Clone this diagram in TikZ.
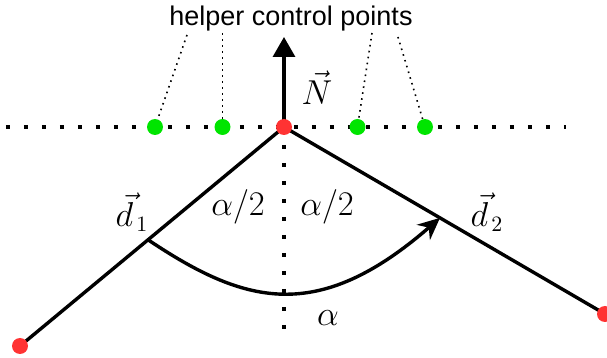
\documentclass[tikz,border=0pt]{standalone}
\usepackage{fontspec}
\newfontfamily\helperfont{Liberation Sans}
\usetikzlibrary{arrows.meta, calc}

\begin{document}
\begin{tikzpicture}[x=0.5pt, y=-0.5pt, >=Stealth,
  pt/.style={circle, fill=#1, inner sep=0pt, minimum size=8pt},
  thickdots/.style={line width=2.2pt, dash pattern=on 2.2pt off 6.8pt},
  thindots/.style={line width=0.8pt, dash pattern=on 0.8pt off 2.2pt},
  mlabel/.style={font=\fontsize{16}{18}\selectfont}]
  \useasboundingbox (0,0) rectangle (607,358);
  % reflection setup
  \coordinate (c) at (284,127);
  \coordinate (l) at (20,346);
  \coordinate (r) at (605,314);
  \coordinate (n) at (284,37);
  \coordinate (hl) at (6,127);
  \coordinate (hr) at (566,127);
  \coordinate (vb) at (284,332);
  \coordinate (a1) at ($(c)!0.515!(l)$);
  \coordinate (a2) at ($(c)!0.486!(r)$);
  \draw[thickdots] (hl) -- (hr);
  \draw[thickdots] (c) -- (vb);
  \draw[line width=1.7pt] (l) -- (c) -- (r);
  \draw[line width=1.7pt, -{Triangle[length=10pt, width=11pt]}] (c) -- (n);
  \draw[line width=1.7pt, -{Stealth[length=11pt, width=10pt]}] (a1) .. controls (244,304) and (317,325) .. (a2);
  % points
  \node[pt=red!80!white] (cdot) at (c) {};
  \node[pt=red!80!white] (ldot) at (l) {};
  \node[pt=red!80!white] (rdot) at (r) {};
  \node[pt=green!90!black] (g1) at (155,127) {};
  \node[pt=green!90!black] (g2) at (222.5,127) {};
  \node[pt=green!90!black] (g3) at (357.5,127) {};
  \node[pt=green!90!black] (g4) at (425,127) {};
  % labels
  \node[font=\helperfont\fontsize{13.5}{15}\selectfont] (helper) at (291,19) {helper control points};
  \coordinate (p1) at (187,35);
  \coordinate (p2) at (222.5,33);
  \coordinate (p3) at (372,33);
  \coordinate (p4) at (398,37);
  \foreach \i in {1,...,4}
    \draw[thindots] (p\i) -- (g\i);
  \node[mlabel] (nlab) at (317,88) {$\vec{N}$};
  \node[mlabel] (d1lab) at (132,212) {$\vec{d}_{\kern1.5pt 1}$};
  \node[mlabel] (d2lab) at (487,212) {$\vec{d}_{\kern1.5pt 2}$};
  \node[mlabel] (hleft) at (238,207) {$\alpha/2$};
  \node[mlabel] (hright) at (327,207) {$\alpha/2$};
  \node[mlabel] (alab) at (328,318) {$\alpha$};
\end{tikzpicture}
\end{document}
